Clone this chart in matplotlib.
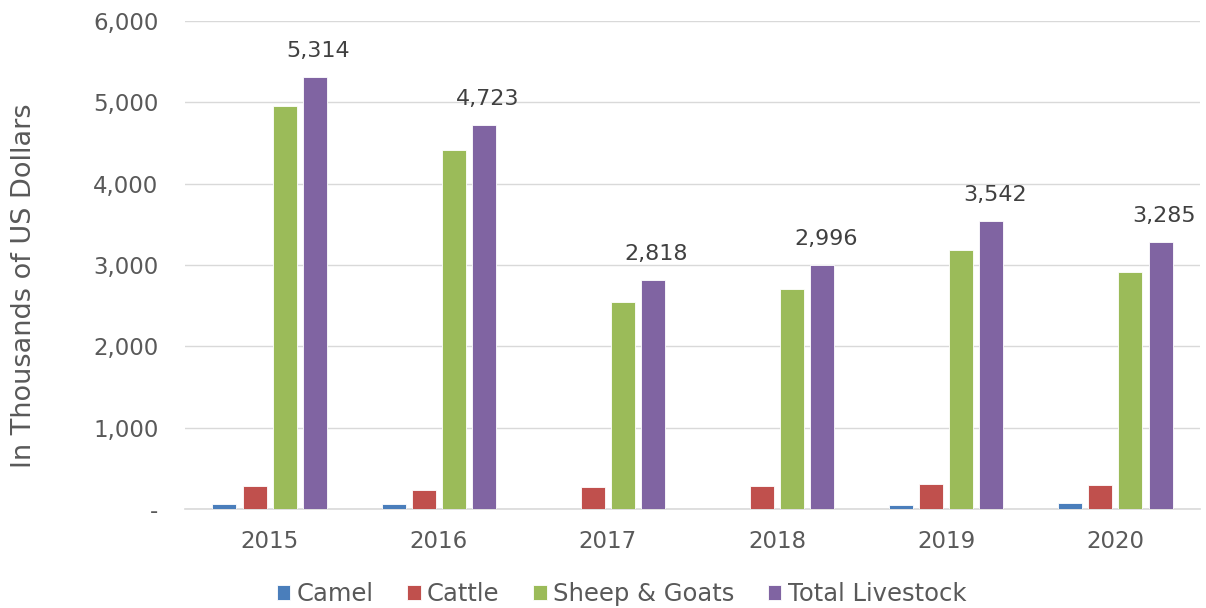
import matplotlib
matplotlib.use("Agg")
import matplotlib.pyplot as plt
import numpy as np
from matplotlib.ticker import FuncFormatter

years = ["2015", "2016", "2017", "2018", "2019", "2020"]
camel = [66, 60, 5, 0, 45, 74]
cattle = [288, 230, 267, 280, 312, 291]
sheep_goats = [4950, 4420, 2540, 2710, 3180, 2910]
total = [5314, 4723, 2818, 2996, 3542, 3285]
series_names = ["Camel", "Cattle", "Sheep & Goats", "Total Livestock"]

colors = ["#4a7ebb", "#c0504d", "#9bbb59", "#8064a2"]
plt.rcParams['font.family'] = ['DejaVu Sans']
txt = "#595959"

fig = plt.figure(figsize=(12.06, 6.08), dpi=100)
ax = fig.add_axes([185/1206, 1 - 509/608, 1015/1206, 488/608])

x = np.arange(len(years))
step = 0.178
w = 0.142
data = [camel, cattle, sheep_goats, total]
for i, (vals, c, n) in enumerate(zip(data, colors, series_names)):
    ax.bar(x + (i - 1.5) * step, vals, width=w, color=c, label=n,
           edgecolor="white", linewidth=0.6, zorder=3)
    if i == 3:
        for xi, v in zip(x + (i - 1.5) * step, vals):
            ax.text(xi + 0.02, v + 200, f"{v:,}", ha="center", va="bottom",
                    fontsize=16, color="#404040")

ax.set_xlim(-0.5, len(years) - 0.5)
ax.set_ylim(0, 6000)
ax.set_yticks(range(0, 6001, 1000))
ax.yaxis.set_major_formatter(FuncFormatter(lambda v, p: "-" if v == 0 else f"{int(v):,}"))
ax.set_xticks(x)
ax.set_xticklabels(years)
ax.grid(axis="y", color="#d9d9d9", linewidth=1, zorder=0)
for s in ["top", "right", "left"]:
    ax.spines[s].set_visible(False)
ax.spines["bottom"].set_color("#d9d9d9")
ax.spines["bottom"].set_linewidth(1.2)
ax.tick_params(axis="both", length=0, labelsize=16.5, colors=txt)
ax.tick_params(axis="x", pad=15)
ax.tick_params(axis="y", pad=19)
ax.set_ylabel("In Thousands of US Dollars", fontsize=19.5, color=txt)
ax.yaxis.set_label_coords(-0.146, 0.457)

ax.legend(loc="center", bbox_to_anchor=(0.43, -0.174), ncol=4, frameon=False,
          fontsize=17.5, labelcolor=txt, handlelength=0.55, handleheight=0.55,
          handletextpad=0.25, columnspacing=1.4)

fig.savefig("out.png", dpi=100)
